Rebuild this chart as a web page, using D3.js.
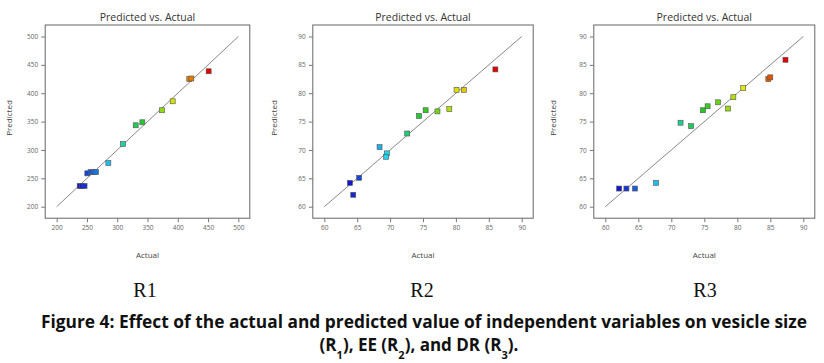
<!DOCTYPE html>
<html>
<head>
<meta charset="utf-8">
<script src="https://cdn.jsdelivr.net/npm/d3@7"></script>
<style>
  body { margin: 0; background: #fff; }
  svg { display: block; }
</style>
</head>
<body>
<div id="chart"></div>
<script>
// R1 - vesicle size
const actualR1    = [238, 242, 246, 250.6, 256, 261, 265, 285.3, 309.5, 330.5, 341.5, 374, 391.6, 419, 422.4, 451];
const predictedR1 = [236.5, 236.5, 236.5, 258.8, 261, 261, 261, 277, 310.5, 343.5, 348.8, 370, 385.8, 425, 426, 438.7];

// R2 - EE
const actualR2    = [63.9, 64.4, 65.3, 68.4, 69.5, 69.4, 72.6, 74.4, 75.4, 77.2, 79.0, 80.1, 81.2, 86.0];
const predictedR2 = [64.2, 62.1, 65.1, 70.5, 69.4, 68.8, 72.9, 76.0, 77.0, 76.8, 77.2, 80.6, 80.6, 84.2];

// R3 - DR
const actualR3    = [62.1, 63.2, 64.5, 67.7, 71.4, 73.0, 74.8, 75.5, 77.1, 78.6, 79.4, 80.9, 84.7, 85.0, 87.3];
const predictedR3 = [63.2, 63.2, 63.2, 64.2, 74.8, 74.2, 77.0, 77.7, 78.4, 77.3, 79.3, 80.9, 82.5, 82.8, 85.9];

const ticksR1 = [200, 250, 300, 350, 400, 450, 500];
const ticksR23 = [60, 65, 70, 75, 80, 85, 90];

const panelLabels = ["R1", "R2", "R3"];
const captionLine1 = "Figure 4: Effect of the actual and predicted value of independent variables on vesicle size";

const width = 824, height = 363;

const svg = d3.select("#chart")
  .append("svg")
  .attr("width", width)
  .attr("height", height);

// panel frames (plot box) and the inner data range
const panels = [
  { actual: actualR1, predicted: predictedR1, ticks: ticksR1, x0: 56.7, x1: 238.3, label: panelLabels[0], labelX: 145, predX: 9.5 },
  { actual: actualR2, predicted: predictedR2, ticks: ticksR23, x0: 324.3, x1: 521.7, label: panelLabels[1], labelX: 422, predX: 274 },
  { actual: actualR3, predicted: predictedR3, ticks: ticksR23, x0: 605.3, x1: 803.3, label: panelLabels[2], labelX: 705, predX: 553 }
];

const yTop = 36.5, yBot = 206.7, pad = 11.5;

panels.forEach(p => {
  const dom = d3.extent(p.ticks);
  const x = d3.scaleLinear().domain(dom).range([p.x0, p.x1]);
  const y = d3.scaleLinear().domain(dom).range([yBot, yTop]);

  // colour ramp from low to high actual value
  const [lo, hi] = d3.extent(p.actual);
  const color = d3.scaleLinear()
    .domain([0, 0.25, 0.5, 0.75, 1].map(t => lo + t * (hi - lo)))
    .range(["#1414d2", "#1cd4ee", "#22c822", "#e6e600", "#e00000"]);

  const g = svg.append("g");

  // frame
  g.append("rect")
    .attr("x", p.x0 - pad)
    .attr("y", yTop - pad)
    .attr("width", p.x1 - p.x0 + 2 * pad)
    .attr("height", yBot - yTop + 2 * pad)
    .attr("fill", "none")
    .attr("stroke", "#666")
    .attr("stroke-width", 1);

  // axes
  const xAxis = g.append("g")
    .attr("transform", `translate(0,${yBot + pad})`)
    .call(d3.axisBottom(x).tickValues(p.ticks).tickSize(4).tickPadding(3));
  const yAxis = g.append("g")
    .attr("transform", `translate(${p.x0 - pad},0)`)
    .call(d3.axisLeft(y).tickValues(p.ticks).tickSize(4).tickPadding(3));

  [xAxis, yAxis].forEach(a => {
    a.select(".domain").remove();
    a.selectAll("line").attr("stroke", "#777");
    a.selectAll("text")
      .attr("fill", "#666")
      .style("font-family", "Open Sans, sans-serif")
      .style("font-size", "6.5px");
  });

  // 45 degree reference line
  g.append("line")
    .attr("x1", x(dom[0])).attr("y1", y(dom[0]))
    .attr("x2", x(dom[1])).attr("y2", y(dom[1]))
    .attr("stroke", "#888")
    .attr("stroke-width", 1);

  // points
  const s = 5;
  g.selectAll("rect.pt")
    .data(d3.range(p.actual.length))
    .join("rect")
    .attr("class", "pt")
    .attr("x", i => x(p.actual[i]) - s / 2)
    .attr("y", i => y(p.predicted[i]) - s / 2)
    .attr("width", s)
    .attr("height", s)
    .attr("fill", i => color(p.actual[i]))
    .attr("stroke", "#555")
    .attr("stroke-width", 0.6);

  const cx = (p.x0 + p.x1) / 2;

  // title
  g.append("text")
    .attr("x", cx)
    .attr("y", 21)
    .attr("text-anchor", "middle")
    .attr("fill", "#333")
    .style("font-family", "Open Sans, sans-serif")
    .style("font-size", "10.5px")
    .text("Predicted vs. Actual");

  // axis labels
  g.append("text")
    .attr("x", cx)
    .attr("y", 258)
    .attr("text-anchor", "middle")
    .attr("fill", "#444")
    .style("font-family", "Open Sans, sans-serif")
    .style("font-size", "8px")
    .text("Actual");

  g.append("text")
    .attr("transform", `translate(${p.predX},118) rotate(-90)`)
    .attr("text-anchor", "middle")
    .attr("dy", "0.35em")
    .attr("fill", "#444")
    .style("font-family", "Open Sans, sans-serif")
    .style("font-size", "8px")
    .text("Predicted");

  // panel name
  svg.append("text")
    .attr("x", p.labelX)
    .attr("y", 297)
    .attr("text-anchor", "middle")
    .attr("fill", "#111")
    .style("font-family", "Liberation Serif, serif")
    .style("font-size", "20px")
    .text(p.label);
});

// caption
svg.append("text")
  .attr("x", 41)
  .attr("y", 328)
  .attr("textLength", 766)
  .attr("lengthAdjust", "spacingAndGlyphs")
  .attr("fill", "#111")
  .style("font-family", "Open Sans, sans-serif")
  .style("font-weight", "bold")
  .style("font-size", "17px")
  .text(captionLine1);

const line2 = svg.append("text")
  .attr("x", 419)
  .attr("y", 351)
  .attr("text-anchor", "middle")
  .attr("fill", "#111")
  .style("font-family", "Open Sans, sans-serif")
  .style("font-weight", "bold")
  .style("font-size", "17px");

[["(R", null], ["1", "sub"], ["), EE (R", null], ["2", "sub"], ["), and DR (R", null], ["3", "sub"], (["). ", null])]
  .forEach(([t, k]) => {
    const ts = line2.append("tspan").text(t);
    if (k === "sub") ts.attr("baseline-shift", "sub").style("font-size", "11px");
  });
</script>
</body>
</html>
